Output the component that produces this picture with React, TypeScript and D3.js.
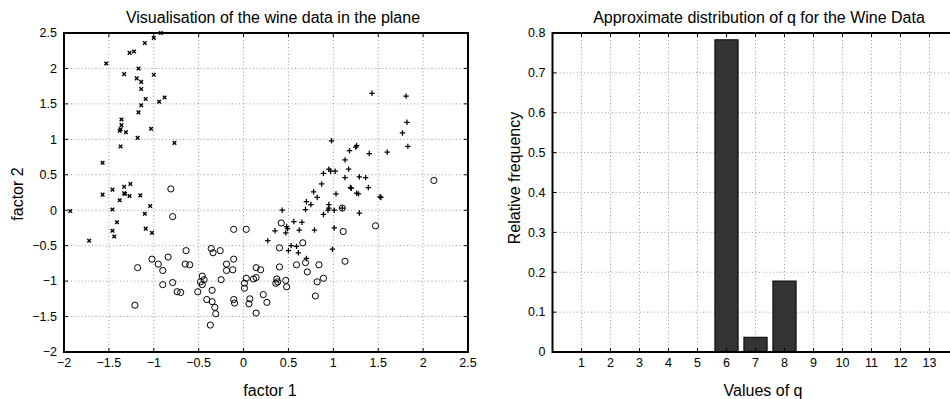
import { useEffect, useRef } from 'react'
import * as d3 from 'd3'

type Pt = [number, number]

// class 1 (+)
const plusPoints: Pt[] = [
  [1.43, 1.65], [1.81, 1.61], [1.82, 1.24], [1.77, 1.09], [1.83, 0.9], [1.6, 0.82],
  [1.4, 0.8], [0.98, 0.98], [1.26, 0.91], [1.25, 0.89], [1.18, 0.84], [1.13, 0.71],
  [1.17, 0.58], [0.89, 0.52], [0.95, 0.58], [0.97, 0.55], [1.02, 0.55], [1.13, 0.46],
  [1.29, 0.47], [1.36, 0.46], [0.87, 0.37], [1.19, 0.32], [1.2, 0.31], [1.39, 0.32],
  [0.78, 0.26], [1.26, 0.24], [1.28, 0.23], [1.03, 0.23], [0.82, 0.18], [1.52, 0.19],
  [1.53, 0.18], [0.7, 0.12], [0.75, 0.08], [0.95, 0.08], [0.95, 0.03], [1.1, 0.03],
  [1.01, 0.0], [0.69, 0.01], [0.94, 0.0], [1.29, -0.04], [0.43, 0.0], [0.89, -0.06],
  [0.56, -0.16], [0.65, -0.17], [0.48, -0.23], [0.49, -0.26], [0.35, -0.29], [0.47, -0.32],
  [0.62, -0.28], [0.79, -0.28], [1.01, -0.25], [0.27, -0.43], [0.53, -0.5], [0.59, -0.51],
  [0.5, -0.57], [0.61, -0.6], [0.99, -0.55], [0.7, -0.68]
]

// class 3 (x)
const crossPoints: Pt[] = [
  [-0.92, 2.5], [-1.0, 2.43], [-1.1, 2.36], [-1.22, 2.24], [-1.27, 2.22], [-1.53, 2.07],
  [-1.33, 1.92], [-1.17, 2.0], [-1.0, 1.91], [-1.19, 1.86], [-1.14, 1.81], [-1.14, 1.71],
  [-1.09, 1.57], [-0.88, 1.59], [-0.94, 1.53], [-1.14, 1.48], [-1.17, 1.38], [-1.36, 1.28],
  [-1.36, 1.2], [-1.37, 1.14], [-1.38, 1.12], [-1.31, 1.1], [-1.03, 1.15], [-1.18, 1.02],
  [-1.37, 0.9], [-0.77, 0.95], [-1.57, 0.67], [-1.57, 0.22], [-1.46, 0.29], [-1.33, 0.33],
  [-1.26, 0.37], [-1.33, 0.24], [-1.32, 0.23], [-1.27, 0.2], [-1.38, 0.14], [-1.15, 0.21],
  [-1.46, 0.01], [-1.04, 0.06], [-1.1, -0.05], [-1.93, -0.01], [-1.41, -0.17], [-1.09, -0.26],
  [-1.46, -0.29], [-1.44, -0.37], [-1.02, -0.32], [-1.72, -0.43]
]

// class 2 (o)
const circlePoints: Pt[] = [
  [2.12, 0.42], [-0.81, 0.3], [-0.79, -0.09], [-0.11, -0.27], [0.03, -0.27], [0.42, -0.18],
  [1.47, -0.22], [1.11, -0.3], [1.1, 0.03], [0.4, -0.53], [0.66, -0.46], [-0.64, -0.57],
  [-0.36, -0.54], [-0.34, -0.6], [-0.26, -0.57], [-1.02, -0.69], [-0.84, -0.66], [-0.11, -0.69],
  [-0.95, -0.76], [-0.9, -0.85], [-1.18, -0.81], [-0.65, -0.76], [-0.6, -0.77], [-0.19, -0.76],
  [-0.19, -0.85], [-0.12, -0.84], [0.14, -0.81], [0.19, -0.84], [0.4, -0.8], [0.59, -0.77],
  [0.69, -0.74], [0.71, -0.87], [0.84, -0.77], [1.13, -0.72], [0.89, -0.96], [0.82, -1.01],
  [-0.46, -0.93], [-0.44, -0.98], [-0.48, -1.01], [-0.46, -1.05], [-0.25, -0.98], [0.03, -0.96],
  [0.01, -1.03], [0.11, -0.97], [0.14, -0.95], [0.37, -0.97], [0.38, -1.01], [0.36, -1.03],
  [0.47, -0.99], [0.48, -1.08], [-0.9, -1.05], [-0.79, -1.02], [-0.74, -1.15], [-0.7, -1.16],
  [-0.51, -1.15], [-0.35, -1.13], [0.01, -1.1], [-0.41, -1.26], [-0.35, -1.29], [-0.32, -1.37],
  [-0.31, -1.46], [-0.37, -1.62], [-1.21, -1.34], [-0.11, -1.26], [-0.1, -1.31], [0.07, -1.25],
  [0.06, -1.32], [0.22, -1.19], [0.26, -1.3], [0.14, -1.45], [0.8, -1.21]
]

const scatterTicks = [-2, -1.5, -1, -0.5, 0, 0.5, 1, 1.5, 2, 2.5]

const qValues = [1, 2, 3, 4, 5, 6, 7, 8, 9, 10, 11, 12, 13]
const qFreq = [0, 0, 0, 0, 0, 0.783, 0.037, 0.178, 0, 0, 0, 0, 0]
const freqTicks = [0, 0.1, 0.2, 0.3, 0.4, 0.5, 0.6, 0.7, 0.8]

const FONT = '"Liberation Sans", Arial, Helvetica, sans-serif'
const fmt = (n: number) => (n < 0 ? '\u2212' + String(-n) : String(n))

type Sel = d3.Selection<SVGGElement, unknown, null, undefined>

function drawFrame(
  g: Sel,
  x: d3.ScaleLinear<number, number>,
  y: d3.ScaleLinear<number, number>,
  xTicks: number[],
  yTicks: number[],
  layer: 'grid' | 'box'
) {
  const [x0, x1] = x.range()
  const [y0, y1] = y.range() // y0 bottom, y1 top
  if (layer === 'grid') {
    const grid = g.append('g').attr('stroke', '#9a9a9a').attr('stroke-width', 1).attr('stroke-dasharray', '1,2.5')
    xTicks.filter(t => x(t) > x0 + 1 && x(t) < x1 - 1).forEach(t => {
      grid.append('line').attr('x1', x(t)).attr('x2', x(t)).attr('y1', y1).attr('y2', y0)
    })
    yTicks.filter(t => y(t) < y0 - 1 && y(t) > y1 + 1).forEach(t => {
      grid.append('line').attr('x1', x0).attr('x2', x1).attr('y1', y(t)).attr('y2', y(t))
    })
    return
  }
  const tl = 4
  const ticks = g.append('g').attr('stroke', '#000').attr('stroke-width', 1)
  xTicks.forEach(t => {
    ticks.append('line').attr('x1', x(t)).attr('x2', x(t)).attr('y1', y0).attr('y2', y0 - tl)
    ticks.append('line').attr('x1', x(t)).attr('x2', x(t)).attr('y1', y1).attr('y2', y1 + tl)
  })
  yTicks.forEach(t => {
    ticks.append('line').attr('x1', x0).attr('x2', x0 + tl).attr('y1', y(t)).attr('y2', y(t))
    ticks.append('line').attr('x1', x1).attr('x2', x1 - tl).attr('y1', y(t)).attr('y2', y(t))
  })
  g.append('rect')
    .attr('x', x0).attr('y', y1)
    .attr('width', x1 - x0).attr('height', y0 - y1)
    .attr('fill', 'none').attr('stroke', '#000').attr('stroke-width', 2)

  g.append('g').selectAll('text').data(xTicks).join('text')
    .attr('x', d => x(d)).attr('y', y0 + 15)
    .attr('text-anchor', 'middle').attr('font-size', 12.5).attr('font-family', FONT)
    .text(d => fmt(d))
  g.append('g').selectAll('text').data(yTicks).join('text')
    .attr('x', x0 - 7).attr('y', d => y(d) + 4.3)
    .attr('text-anchor', 'end').attr('font-size', 12.5).attr('font-family', FONT)
    .text(d => fmt(d))
}

export default function App() {
  const ref = useRef<SVGSVGElement>(null)

  useEffect(() => {
    if (!ref.current) return
    const svg = d3.select(ref.current)
    svg.selectAll('*').remove()
    const root = svg.append('g') as unknown as Sel

    // ---- left: scatter ----
    const x = d3.scaleLinear().domain([-2, 2.5]).range([64, 468])
    const y = d3.scaleLinear().domain([-2, 2.5]).range([352, 33])
    const left = root.append('g')
    drawFrame(left, x, y, scatterTicks, scatterTicks, 'grid')

    const pts = left.append('g').attr('fill', 'none').attr('stroke', '#000')
    pts.selectAll('circle').data(circlePoints).join('circle')
      .attr('cx', d => x(d[0])).attr('cy', d => y(d[1])).attr('r', 3.1).attr('stroke-width', 1)
    pts.selectAll('path.plus').data(plusPoints).join('path')
      .attr('class', 'plus')
      .attr('d', d => `M${x(d[0]) - 2.7},${y(d[1])}h5.4M${x(d[0])},${y(d[1]) - 2.7}v5.4`)
      .attr('stroke-width', 1.25)
    pts.selectAll('path.cross').data(crossPoints).join('path')
      .attr('class', 'cross')
      .attr('d', d => {
        const cx = x(d[0]), cy = y(d[1]), s = 1.8
        return `M${cx - s},${cy - s}L${cx + s},${cy + s}M${cx - s},${cy + s}L${cx + s},${cy - s}`
      })
      .attr('stroke-width', 1.4)

    drawFrame(left, x, y, scatterTicks, scatterTicks, 'box')

    left.append('text').attr('x', 273).attr('y', 22.5).attr('text-anchor', 'middle')
      .attr('font-size', 16).attr('font-family', FONT).text('Visualisation of the wine data in the plane')
    left.append('text').attr('x', 270).attr('y', 396).attr('text-anchor', 'middle')
      .attr('font-size', 16).attr('font-family', FONT).text('factor 1')
    left.append('text').attr('transform', 'translate(23,194) rotate(-90)').attr('text-anchor', 'middle')
      .attr('font-size', 16).attr('font-family', FONT).text('factor 2')

    // ---- right: bar chart ----
    const xb = d3.scaleLinear().domain([0, 14]).range([552.5, 958.5])
    const yb = d3.scaleLinear().domain([0, 0.8]).range([352, 33])
    const right = root.append('g')
    drawFrame(right, xb, yb, qValues, freqTicks, 'grid')

    const bw = xb(0.8) - xb(0)
    right.append('g').selectAll('rect').data(qValues.map((q, i) => ({ q, f: qFreq[i] })).filter(d => d.f > 0))
      .join('rect')
      .attr('x', d => xb(d.q) - bw / 2).attr('width', bw)
      .attr('y', d => yb(d.f)).attr('height', d => yb(0) - yb(d.f))
      .attr('fill', '#333333').attr('stroke', '#000').attr('stroke-width', 1)

    drawFrame(right, xb, yb, qValues, freqTicks, 'box')

    right.append('text').attr('x', 759).attr('y', 22.5).attr('text-anchor', 'middle')
      .attr('font-size', 16).attr('font-family', FONT).text('Approximate distribution of q for the Wine Data')
    right.append('text').attr('x', 763).attr('y', 396).attr('text-anchor', 'middle')
      .attr('font-size', 16).attr('font-family', FONT).text('Values of q')
    right.append('text').attr('transform', 'translate(520,178) rotate(-90)').attr('text-anchor', 'middle')
      .attr('font-size', 16).attr('font-family', FONT).text('Relative frequency')
  }, [])

  return (
    <svg
      ref={ref}
      width={950}
      height={399}
      style={{ position: 'absolute', left: 0, top: 0, background: '#fff' }}
    />
  )
}
